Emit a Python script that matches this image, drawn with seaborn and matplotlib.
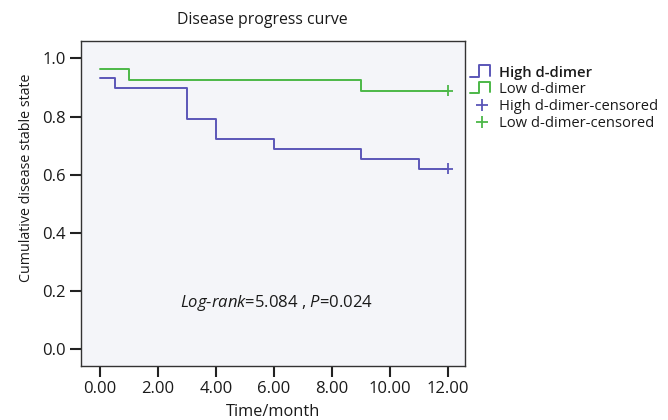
import seaborn as sns
import matplotlib.pyplot as plt
import numpy as np
import pandas as pd
from matplotlib.lines import Line2D
from matplotlib.legend_handler import HandlerBase

# Kaplan-Meier style step values
high_times = [0, 0.5, 3, 4, 6, 9, 11, 12]
high_surv = [0.933, 0.897, 0.793, 0.724, 0.689, 0.655, 0.621, 0.621]
low_times = [0, 1, 9, 12]
low_surv = [0.963, 0.926, 0.889, 0.889]
censor_times = [12, 12]
censor_surv = [0.621, 0.889]
groups = ['High d-dimer', 'Low d-dimer']

x_ticks = [0, 2, 4, 6, 8, 10, 12]
y_ticks = [0.0, 0.2, 0.4, 0.6, 0.8, 1.0]

purple = '#5b56b8'
green = '#4cb848'


class StepHandler(HandlerBase):
    """Draws the little step glyph used in SPSS legends."""
    def create_artists(self, legend, orig_handle, xdescent, ydescent,
                       width, height, fontsize, trans):
        x0, y0 = -xdescent, -ydescent
        xs = [x0, x0 + width * 0.4, x0 + width * 0.4, x0 + width * 0.85, x0 + width * 0.85]
        ys = [y0, y0, y0 + height * 1.1, y0 + height * 1.1, y0 + height * 0.1]
        line = Line2D(xs, ys, color=orig_handle.get_color(), lw=1.4, transform=trans)
        return [line]


sns.set_style('white')
plt.rcParams['font.family'] = ['Open Sans', 'DejaVu Sans']
plt.rcParams['mathtext.fontset'] = 'custom'
plt.rcParams['mathtext.it'] = 'Open Sans:italic'
plt.rcParams['mathtext.rm'] = 'Open Sans'
plt.rcParams['text.color'] = '#1a1a1a'
plt.rcParams['axes.labelcolor'] = '#1a1a1a'

df = pd.concat([
    pd.DataFrame({'time': high_times, 'surv': high_surv, 'group': groups[0]}),
    pd.DataFrame({'time': low_times, 'surv': low_surv, 'group': groups[1]}),
])
cens = pd.DataFrame({'time': censor_times, 'surv': censor_surv, 'group': groups})
palette = {groups[0]: purple, groups[1]: green}

fig = plt.figure(figsize=(6.68, 4.2), dpi=100)
ax = fig.add_axes([0.1213, 0.1286, 0.575, 0.774])
ax.set_facecolor('#f4f5f9')

sns.lineplot(data=df, x='time', y='surv', hue='group', palette=palette,
             drawstyle='steps-post', estimator=None, lw=1.4, ax=ax, legend=False)
sns.scatterplot(data=cens, x='time', y='surv', hue='group', palette=palette,
                marker='+', s=60, linewidth=1.3, ax=ax, legend=False, zorder=3)

ax.set_xlim(-0.66, 12.6)
ax.set_ylim(-0.058, 1.06)
ax.set_xticks(x_ticks)
ax.set_xticklabels([f'{t:.2f}' for t in x_ticks])
ax.set_yticks(y_ticks)
ax.set_yticklabels([f'{t:.1f}' for t in y_ticks])
ax.tick_params(axis='both', direction='out', length=8, width=1.5,
               color='#222222', labelcolor='#1a1a1a', labelsize=12, pad=3,
               left=True, bottom=True)
for sp in ax.spines.values():
    sp.set_color('#333333')
    sp.set_linewidth(1.0)

ax.set_xlabel('Time/month', fontsize=11.8, labelpad=5)
ax.set_ylabel('Cumulative disease stable state', fontsize=10.3)
ax.yaxis.set_label_coords(-0.123, 0.578)
ax.text(6.08, 0.16, r'$\mathit{Log}$-$\mathit{rank}$=5.084 , $\mathit{P}$=0.024',
        ha='center', va='center', fontsize=12)
fig.text(0.393, 0.952, 'Disease progress curve', ha='center', va='center', fontsize=11.4)

handles = [Line2D([], [], color=purple), Line2D([], [], color=green),
           Line2D([], [], color=purple, marker='+', ls='', ms=8, mew=1.3),
           Line2D([], [], color=green, marker='+', ls='', ms=8, mew=1.3)]
labels = ['High d-dimer', 'Low d-dimer', 'High d-dimer-censored', 'Low d-dimer-censored']
leg = fig.legend(handles, labels, loc='upper left', bbox_to_anchor=(0.688, 0.868),
                 frameon=False, fontsize=10.6, handlelength=1.6, handletextpad=0.35,
                 labelspacing=0.15, borderpad=0.2,
                 handler_map={handles[0]: StepHandler(), handles[1]: StepHandler()})
leg.get_texts()[0].set_fontweight('semibold')

fig.savefig('out.png', dpi=100)
